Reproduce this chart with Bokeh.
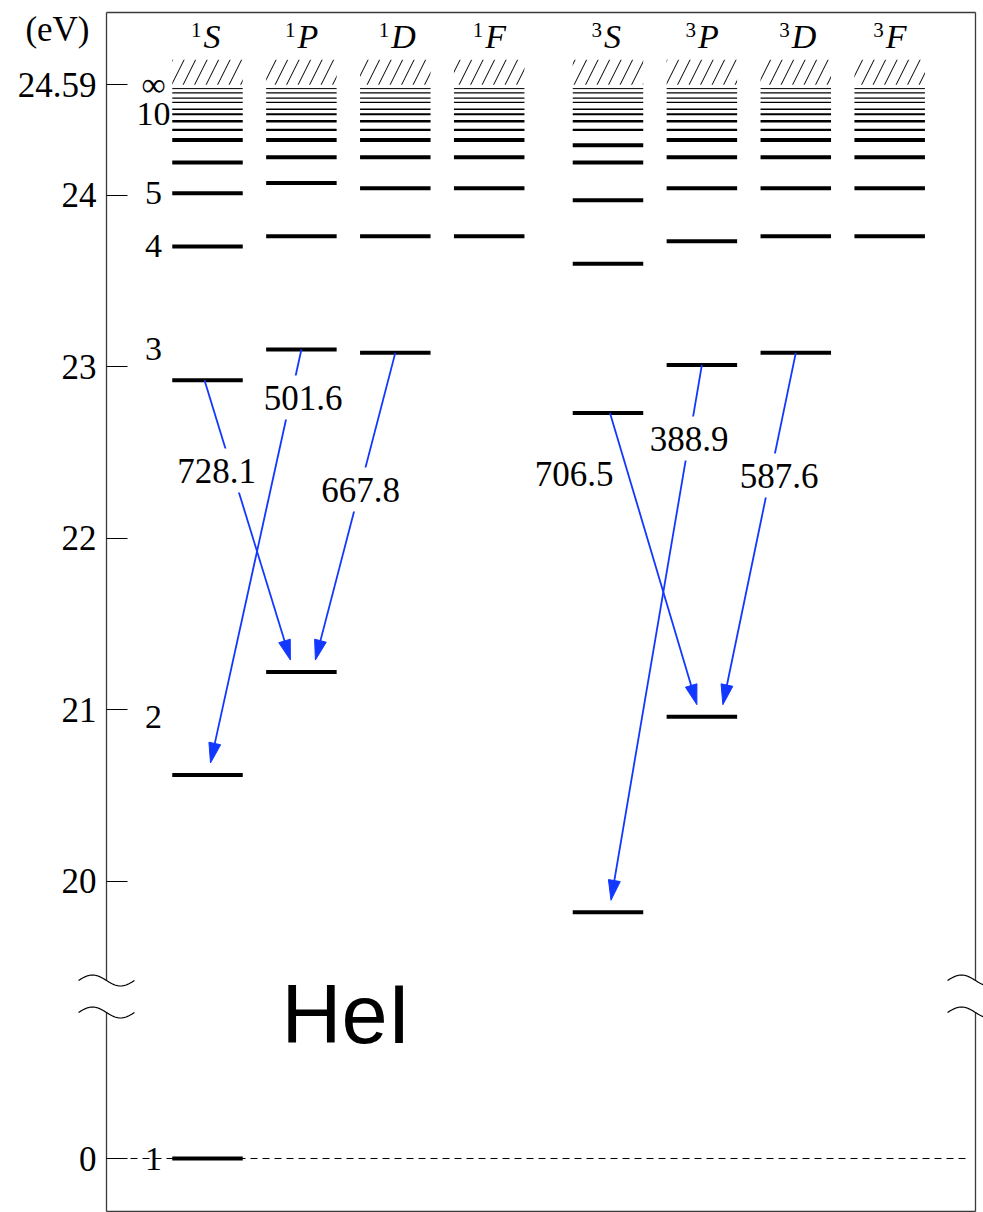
import math
import numpy as np
from bokeh.plotting import figure
from bokeh.models import Range1d, FixedTicker, Label, ColumnDataSource
from bokeh.core.properties import value
from bokeh.embed import file_html
from bokeh.resources import INLINE

# ---------------- data (eV) ----------------
L_LETTERS = ["S", "P", "D", "F"]
SPINS = ["1", "3"]
N_LOW = [2, 3, 4, 5, 6, 7]
SINGLET_S = [20.62, 22.92, 23.70, 24.01, 24.19, 24.32]
SINGLET_P = [21.22, 23.10, 23.76, 24.07, 24.22, 24.32]
SINGLET_D = [None, 23.08, 23.76, 24.04, 24.22, 24.32]
SINGLET_F = [None, None, 23.76, 24.04, 24.22, 24.32]
TRIPLET_S = [19.82, 22.73, 23.60, 23.97, 24.19, 24.29]
TRIPLET_P = [20.96, 23.01, 23.73, 24.04, 24.22, 24.32]
TRIPLET_D = [None, 23.08, 23.76, 24.04, 24.22, 24.32]
TRIPLET_F = [None, None, 23.76, 24.04, 24.22, 24.32]
HIGH_N = [8, 9, 10, 11, 12, 13, 14, 15]
HIGH_N_E = [24.38, 24.43, 24.47, 24.50, 24.54, 24.565, 24.595, 24.62]
GROUND_E = 0.0
LIMIT_LABEL = "24.59"
AXIS_TICKS = [0, 20, 21, 22, 23, 24]
AXIS_TICK_LABELS = ["0", "20", "21", "22", "23", "24"]
N_LABELS = ["1", "2", "3", "4", "5", "10", "\u221e"]
N_LABEL_E = [0.0, 20.96, 23.10, 23.70, 24.01, 24.47, None]   # None = series limit
TR_UPPER = [("1", "S", 3), ("1", "P", 3), ("1", "D", 3), ("3", "S", 3), ("3", "P", 3), ("3", "D", 3)]
TR_LOWER = [("1", "P", 2), ("1", "S", 2), ("1", "P", 2), ("3", "P", 2), ("3", "S", 2), ("3", "P", 2)]
TR_WAVELENGTH = ["728.1", "501.6", "667.8", "706.5", "388.9", "587.6"]
TITLE = "HeI"
UNIT = "(eV)"

LEVELS = {
    "1": [SINGLET_S, SINGLET_P, SINGLET_D, SINGLET_F],
    "3": [TRIPLET_S, TRIPLET_P, TRIPLET_D, TRIPLET_F],
}

# ---------------- layout ----------------
SX = 93.9     # px per column unit
SY = 171.6    # px per eV
TRIPLET_SHIFT = 4.265
HALF_BAR = 35.25 / SX


def xd(px):
    return (px - 207.0) / SX


def yd(py):
    return 24.0 - (py - 194.5) / SY


LIMIT_POS = yd(84.3)
GROUND_POS = yd(1158.0)


def ploty(e):
    return GROUND_POS + e if e < 19 else e


def col_x(spin, letter):
    return L_LETTERS.index(letter) + (0.0 if spin == "1" else TRIPLET_SHIFT)


def level_e(spin, letter, n):
    if n == 1:
        return GROUND_E
    return LEVELS[spin][L_LETTERS.index(letter)][N_LOW.index(n)]


BLUE = "#1238ff"
SERIF = value("Liberation Serif")

p = figure(width=983, height=1212, output_backend="svg", toolbar_location=None,
           x_range=Range1d(xd(0), xd(983)), y_range=Range1d(yd(1212), yd(0)),
           x_axis_location=None, min_border=0)
p.outline_line_color = None
p.xgrid.visible = False
p.ygrid.visible = False
p.background_fill_color = "white"
p.border_fill_color = "white"

# y axis, placed on the frame's left edge line
ticks = [ploty(t) for t in AXIS_TICKS] + [LIMIT_POS]
labels = AXIS_TICK_LABELS + [LIMIT_LABEL]
yax = p.yaxis[0]
yax.fixed_location = xd(106)
yax.ticker = FixedTicker(ticks=ticks, minor_ticks=[])
yax.major_label_overrides = {t: l for t, l in zip(ticks, labels)}
yax.axis_line_color = None
yax.major_tick_in = 21
yax.major_tick_out = 0
yax.major_tick_line_color = "black"
yax.major_tick_line_width = 1
yax.minor_tick_line_color = None
yax.major_label_standoff = 10
yax.major_label_text_font = "Liberation Serif"
yax.major_label_text_font_size = "35px"
yax.major_label_text_color = "black"

# frame with axis breaks
FRAME = "#3a3a3a"
fx0, fx1 = xd(106), xd(975)
fy0, fy1 = yd(1211), yd(12)
b_hi, b_lo = yd(980), yd(1012)
p.segment(x0=[fx0, fx0, fx1, fx1, fx0, fx0], y0=[fy1, b_lo, fy1, b_lo, fy1, fy0],
          x1=[fx0, fx0, fx1, fx1, fx1, fx1], y1=[b_hi, fy0, b_hi, fy0, fy1, fy0],
          line_color=FRAME, line_width=1.3)
t = np.linspace(0, 1, 41)
tx, ty = [], []
for cx in (106, 975):
    for cy in (980, 1012):
        tx.append([xd(cx - 28 + 56 * s) for s in t])
        ty.append([yd(cy - 5.5 * math.sin(2 * math.pi * s)) for s in t])
p.multi_line(xs=tx, ys=ty, line_color="black", line_width=1.2)

# ground-level dashed line
p.segment(x0=[fx0], y0=[ploty(GROUND_E)], x1=[xd(966)], y1=[ploty(GROUND_E)],
          line_color="black", line_width=1, line_dash="7 5")

# levels
HIGH_LW = [2.2, 2.4, 2.0, 1.5, 1.3, 1.2, 1.2, 1.0]
lx0, lx1, ly, lw = [], [], [], []
hl, hr = [], []
for spin in SPINS:
    for letter in L_LETTERS:
        cx = col_x(spin, letter)
        for n in N_LOW:
            e = level_e(spin, letter, n)
            if e is None:
                continue
            lx0.append(cx - HALF_BAR); lx1.append(cx + HALF_BAR); ly.append(ploty(e)); lw.append(4)
        for e, w in zip(HIGH_N_E, HIGH_LW):
            lx0.append(cx - HALF_BAR); lx1.append(cx + HALF_BAR); ly.append(e); lw.append(w)
        hl.append(cx - HALF_BAR); hr.append(cx + HALF_BAR)
cx = col_x("1", "S")
lx0.append(cx - HALF_BAR); lx1.append(cx + HALF_BAR); ly.append(ploty(GROUND_E)); lw.append(4)
p.segment(x0="x0", x1="x1", y0="y", y1="y", line_width="lw", line_color="black", line_cap="butt",
          source=ColumnDataSource(dict(x0=lx0, x1=lx1, y=ly, lw=lw)))

# continuum (hatched)
p.quad(left=hl, right=hr, bottom=[LIMIT_POS] * len(hl), top=[LIMIT_POS + 25 / SY] * len(hl),
       fill_color="white", fill_alpha=0, line_color=None, hatch_pattern="/",
       hatch_color="black", hatch_weight=1, hatch_scale=23)

# column headers
for spin in SPINS:
    for letter in L_LETTERS:
        cx = col_x(spin, letter)
        p.text(x=[cx - 6 / SX], y=[yd(29)], text=[spin], text_align="right",
               text_baseline="middle", text_font=SERIF, text_font_size="21px", text_color="black")
        p.text(x=[cx - 4 / SX], y=[yd(36.2)], text=[letter], text_align="left",
               text_baseline="middle", text_font=SERIF, text_font_size="34px",
               text_font_style="italic", text_color="black")

# principal quantum number labels
ny = [ploty(e) if e is not None else LIMIT_POS for e in N_LABEL_E]
p.text(x=[xd(153)] * len(N_LABELS), y=ny, text=N_LABELS, text_align="center",
       text_baseline="middle", text_font=SERIF, text_font_size="34px", text_color="black")

# transitions
DX0 = [-3, 0, 0, 2, 0, 0]
DX1 = [-11, 3, 14, -5, 3, 21]
GAP = 12
HEAD_L, HEAD_W = 20, 12
sx0, sy0, sx1, sy1, hx, hy = [], [], [], [], [], []
for up, lo, d0, d1 in zip(TR_UPPER, TR_LOWER, DX0, DX1):
    x0 = col_x(up[0], up[1]) + d0 / SX
    y0 = ploty(level_e(*up))
    xt = col_x(lo[0], lo[1]) + d1 / SX
    yt = ploty(level_e(*lo)) + GAP / SY
    vx, vy = (xt - x0) * SX, (yt - y0) * SY
    nrm = math.hypot(vx, vy)
    ux, uy = vx / nrm, vy / nrm
    bx, by = xt - HEAD_L * ux / SX, yt - HEAD_L * uy / SY
    px_, py_ = -uy, ux
    sx0.append(x0); sy0.append(y0)
    sx1.append(bx + 2 * ux / SX); sy1.append(by + 2 * uy / SY)
    hx.append([xt, bx + px_ * HEAD_W / 2 / SX, bx - px_ * HEAD_W / 2 / SX])
    hy.append([yt, by + py_ * HEAD_W / 2 / SY, by - py_ * HEAD_W / 2 / SY])
p.segment(x0=sx0, y0=sy0, x1=sx1, y1=sy1, line_color=BLUE, line_width=1.8)
p.patches(xs=hx, ys=hy, fill_color=BLUE, line_color=BLUE, line_width=1)

# wavelength labels
LAB_PX = [(216, 470), (302.5, 397), (360, 489), (573.5, 473), (688.5, 438), (778.5, 475)]
lab_x = [xd(a) for a, b in LAB_PX]
lab_y = [yd(b) for a, b in LAB_PX]
p.rect(x=lab_x, y=lab_y, width=82, height=44, width_units="screen", height_units="screen",
       fill_color="white", line_color=None)
p.text(x=lab_x, y=lab_y, text=TR_WAVELENGTH, text_align="center", text_baseline="middle",
       text_font=SERIF, text_font_size="35px", text_color="black")

# species label
p.text(x=[xd(281)], y=[yd(1014)], text=[TITLE], text_align="left", text_baseline="middle",
       text_font=value("Liberation Sans"), text_font_size="83px", text_color="black")

# unit label
p.add_layout(Label(x=xd(89), y=yd(29), text=UNIT, text_align="right", text_baseline="middle",
                   text_font="Liberation Serif", text_font_size="35px", text_color="black"))

open("out.html", "w").write(file_html(p, INLINE))
